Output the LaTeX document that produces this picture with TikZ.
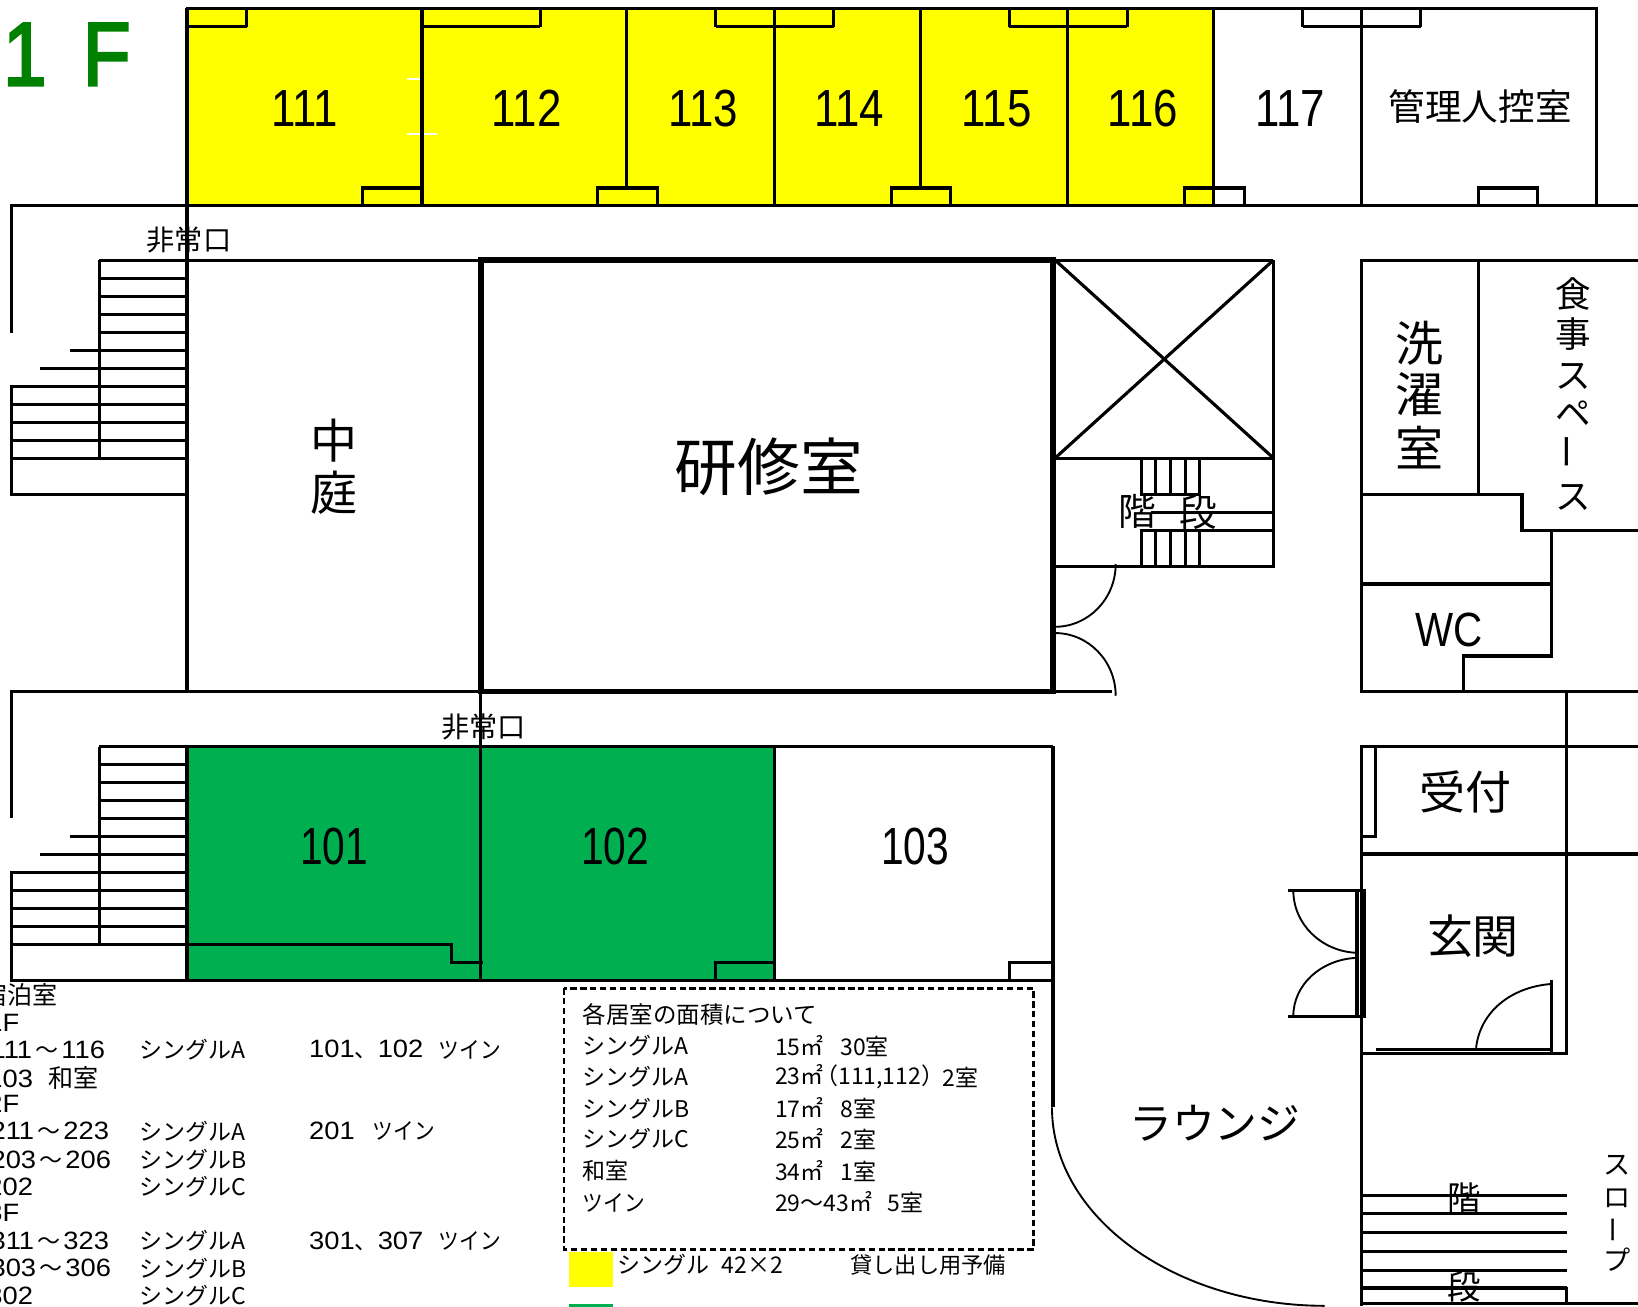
\documentclass[tikz,border=0pt]{standalone}
\usepackage{fontspec}
\usepackage{graphicx}
\setmainfont{Noto Sans CJK JP}
\newfontfamily\lib{Liberation Sans}
\newfontfamily\libfb[FakeBold=3]{Liberation Sans}
\newcommand{\fs}[1]{\fontsize{#1}{#1}\selectfont}
\newcommand{\nar}[1]{\scalebox{0.84}[1]{\lib #1}}
\newcommand{\narr}[1]{\scalebox{0.78}[1]{\lib #1}}
\newcommand{\wdn}[1]{\scalebox{1.09}[1]{\lib\fs{24}#1}}
\newcommand{\tw}{\scalebox{0.9}[1]{ツイン}}
\newcommand{\wv}{\hspace{3pt}～\hspace{3pt}}
\definecolor{roomyellow}{RGB}{255,255,0}
\definecolor{roomgreen}{RGB}{0,176,80}
\definecolor{floorgreen}{RGB}{0,128,0}
\tikzset{
  wall/.style={draw=black,line width=3pt,line cap=butt},
  thickwall/.style={draw=black,line width=5.4pt},
  arcline/.style={draw=black,line width=1.8pt},
  lbl/.style={inner sep=0pt,outer sep=0pt,anchor=center,text=black},
  lst/.style={inner sep=0pt,outer sep=0pt,anchor=west,text=black,font=\fs{22}},
  rnum/.style={lbl,font=\fs{50}},
}
\begin{document}
\begin{tikzpicture}[x=1pt,y=-1pt]
\useasboundingbox (0,0) rectangle (1568,1250.2);
\clip (0,0) rectangle (1568,1250.2);
% fills
\fill[roomyellow] (179,8) rectangle (1162,197);
\fill[roomgreen] (179,714) rectangle (741,938);
\fill[roomyellow] (545,1198) rectangle (587,1232);
\fill[roomgreen] (545,1248.5) rectangle (587,1252);
% white marks in room 111/112
\draw[white,line width=2pt] (390,76) -- (402,76);
\draw[white,line width=2pt] (390,128) -- (418,128);
% top block
\draw[wall] (178,8) -- (1530,8);
\draw[wall] (10,197) -- (1568,197);
\foreach \x in {179,404,741,1022,1303,1528} \draw[wall] (\x,8) -- (\x,197);
\draw[wall] (1162,8) -- (1162,197);
\foreach \x in {600,881} \draw[wall] (\x,8) -- (\x,180);
\foreach \a/\b in {179/236,404/517,685/798,966/1079,1247/1360} {
  \draw[wall] (\a,25) -- (\b,25);
}
\foreach \x in {236,517,685,798,966,1079,1247,1360} \draw[wall] (\x,8) -- (\x,26);
\foreach \a/\b in {347/404,572/629,853/910,1134/1191,1415/1472} {
  \draw[wall] (\a,197) -- (\a,180) -- (\b,180) -- (\b,197);
}
% left corridor and upper stairs
\draw[wall] (10.8,197) -- (10.8,318.5);
\draw[wall] (179,197) -- (179,662);
\draw[wall] (95,249) -- (1219,249);
\draw[wall] (95,249) -- (95,439);
\foreach \y in {266.4,283.7,300.9,318.2} \draw[wall] (95,\y) -- (179,\y);
\draw[wall] (67,335.4) -- (179,335.4);
\draw[wall] (38.3,352.6) -- (179,352.6);
\foreach \y in {369.8,387,404.3,421.5,438.7,473.2} \draw[wall] (10.8,\y) -- (179,\y);
\draw[wall] (10.8,368.3) -- (10.8,474.7);
% study room
\draw[thickwall] (460.5,249) rectangle (1008,662);
% void and stairs
\draw[wall] (1219,249) -- (1219,542) -- (1008,542);
\draw[wall] (1008,438.5) -- (1219,438.5);
\draw[wall] (1010,249) -- (1219,438.5);
\draw[wall] (1219,249) -- (1010,438.5);
\foreach \x in {1092.4,1106,1120.6,1134.6,1148.5} {
  \draw[wall] (\x,438.5) -- (\x,473);
  \draw[wall] (\x,508) -- (\x,542);
}
\draw[wall] (1091,473) -- (1150,473);
\draw[wall] (1101.6,490.5) -- (1219,490.5);
\draw[wall] (1091,508) -- (1219,508);
% double doors by study room
\draw[arcline] (1068,540) .. controls (1068,573) and (1042,600) .. (1010,600);
\draw[arcline] (1010,606) .. controls (1042,606) and (1068,633) .. (1068,666);
% corridors middle
\draw[wall] (10,662) -- (1064,662);
\draw[wall] (10.8,662) -- (10.8,783);
\draw[wall] (460,662) -- (460,938);
\draw[wall] (95,714.8) -- (1008,714.8);
\draw[wall] (95,714.8) -- (95,905);
\draw[wall] (179,714) -- (179,940);
\foreach \y in {732,749.3,766.2,783.4} \draw[wall] (95,\y) -- (179,\y);
\draw[wall] (67,800.6) -- (179,800.6);
\draw[wall] (38.3,817.8) -- (179,817.8);
\foreach \y in {835,852.3,869.5,886.8} \draw[wall] (10.8,\y) -- (179,\y);
\draw[wall] (10.8,904) -- (432,904) -- (432,921) -- (462,921);
\draw[wall] (10.8,833.5) -- (10.8,938.5);
\draw[wall] (9.3,938.5) -- (1010,938.5);
\draw[wall] (741,714) -- (741,938);
\draw[wall] (685,938) -- (685,921) -- (741,921);
\draw[wall] (966,938) -- (966,921) -- (1008,921);
\draw[wall] (1008,714) -- (1008,1060);
% right block upper
\draw[wall] (1568,249) -- (1303,249) -- (1303,662) -- (1568,662);
\draw[wall] (1415.5,249) -- (1415.5,473);
\draw[wall] (1303,473) -- (1457,473) -- (1457,507.5) -- (1568,507.5);
\draw[wall] (1485.5,507.5) -- (1485.5,628);
\draw[wall] (1303,559) -- (1487,559);
\draw[wall] (1487,628) -- (1401,628) -- (1401,662);
\draw[wall] (1499.5,662) -- (1499.5,1009);
% reception and entrance
\draw[wall] (1568,714.5) -- (1303,714.5) -- (1303,1250);
\draw[wall] (1303,817.5) -- (1568,817.5);
\draw[wall] (1317,714.5) -- (1317,801) -- (1303,801);
\draw[wall] (1233,852.5) -- (1306,852.5) -- (1306,973) -- (1233,973);
\draw[wall] (1299,852.5) -- (1299,973);
\draw[arcline] (1238,852) .. controls (1238,885) and (1265,910) .. (1297,912);
\draw[arcline] (1297,917) .. controls (1265,919) and (1238,942) .. (1238,973);
\draw[wall] (1303,1008.5) -- (1500.7,1008.5);
\draw[wall] (1317,1005) -- (1487,1005);
\draw[wall] (1485.5,938) -- (1485.5,1009);
\draw[arcline] (1413,1003) .. controls (1417,968) and (1447,945) .. (1484,942);
% lower stairs
\foreach \y in {1144,1162,1180,1198,1216,1233} \draw[wall] (1303,\y) -- (1500,\y);
\draw[wall] (1499.5,1232) -- (1499.5,1248);
\draw[wall] (1303,1248) -- (1568,1248);
% lounge curve
\draw[arcline] (1007,1060) .. controls (1007,1165) and (1125,1250) .. (1268,1250);
% dashed box
\draw[draw=black,line width=2.5pt,dash pattern=on 6pt off 3.5pt] (540,946) rectangle (989.5,1196);
% texts
\node[lbl,anchor=west,text=floorgreen,font=\libfb\fs{86}] (floor) at (3,52) {\scalebox{0.87}[1]{1\hspace{16pt} F}};
\foreach \n/\x in {111/292,112/504,113/673,114/813,115/954,116/1094,117/1235}
  \node[rnum] (r\n) at (\x,104) {\nar{\n}};
\node[rnum] (r101) at (320,810) {\narr{101}};
\node[rnum] (r102) at (589,810) {\narr{102}};
\node[rnum] (r103) at (876,810) {\narr{103}};
\node[lbl,font=\fs{35}] (kanri) at (1417,102) {管理人控室};
\node[lbl,font=\fs{45}] (naka1) at (320,422) {中};
\node[lbl,font=\fs{45}] (naka2) at (320,472) {庭};
\node[lbl,font=\fs{60}] (kenshu) at (736,447) {研修室};
\node[lbl,font=\fs{46}] (sen1) at (1359,329) {洗};
\node[lbl,font=\fs{46}] (sen2) at (1359,378) {濯};
\node[lbl,font=\fs{46}] (sen3) at (1359,428) {室};
\node[lbl,font=\fs{34}] (sh1) at (1506,281) {食};
\node[lbl,font=\fs{34}] (sh2) at (1506,320) {事};
\node[lbl,font=\fs{34}] (sh3) at (1506,360) {ス};
\node[lbl,font=\fs{34}] (sh4) at (1506,396) {ペ};
\node[lbl,font=\fs{34},rotate=90] (sh5) at (1506,432) {ー};
\node[lbl,font=\fs{34}] (sh6) at (1506,476) {ス};
\node[lbl,font=\fs{36}] (kai1) at (1089,490) {階};
\node[lbl,font=\fs{36}] (kai2) at (1147,490) {段};
\node[lbl,font=\fs{46}] (wc) at (1387,603) {\nar{WC}};
\node[lbl,font=\fs{44}] (uketsuke) at (1403,758) {受付};
\node[lbl,font=\fs{44}] (genkan) at (1410,896) {玄関};
\node[lbl,font=\fs{41}] (lounge) at (1163,1075) {ラウンジ};
\node[lbl,font=\fs{32}] (kai3) at (1402,1147) {階};
\node[lbl,font=\fs{32}] (kai4) at (1402,1232) {段};
\node[lbl,font=\fs{26}] (sl1) at (1548,1115) {ス};
\node[lbl,font=\fs{26}] (sl2) at (1548,1147) {ロ};
\node[lbl,font=\fs{26},rotate=90] (sl3) at (1548,1177) {ー};
\node[lbl,font=\fs{26}] (sl4) at (1548,1206) {プ};
\node[lbl,font=\fs{27}] (hijo1) at (181,230) {非常口};
\node[lbl,font=\fs{27}] (hijo2) at (463,696) {非常口};
% left list
\node[lst,font=\fs{24}] (l1) at (-17,952) {宿泊室};
\node[lst] (l2) at (-12,979) {\wdn{1F}};
\node[lst] (l3) at (-9,1005) {\wdn{111}\wv\wdn{116}};
\node[lst] (l4) at (-12,1032) {\wdn{103}\hspace{15pt}\fs{24}和室};
\node[lst] (l5) at (-12,1057) {\wdn{2F}};
\node[lst] (l6) at (-9,1083) {\wdn{211}\wv\wdn{223}};
\node[lst] (l7) at (-9,1110) {\wdn{203}\wv\wdn{206}};
\node[lst] (l8) at (-12,1136) {\wdn{202}};
\node[lst] (l9) at (-12,1161) {\wdn{3F}};
\node[lst] (l10) at (-9,1188) {\wdn{311}\wv\wdn{323}};
\node[lst] (l11) at (-9,1214) {\wdn{303}\wv\wdn{306}};
\node[lst] (l12) at (-12,1240) {\wdn{302}};
\foreach \nm/\y/\t in {a/1005/シングルA,b/1083/シングルA,c/1110/シングルB,d/1136/シングルC,e/1188/シングルA,f/1214/シングルB,g/1240/シングルC}
  \node[lst] (t\nm) at (134,\y) {\t};
\node[lst] (c1) at (296,1005) {\wdn{101}、\wdn{102}};
\node[lst] (c1b) at (420,1005) {\tw};
\node[lst] (c2) at (296,1083) {\wdn{201}};
\node[lst] (c2b) at (357,1083) {\tw};
\node[lst] (c3) at (296,1188) {\wdn{301}、\wdn{307}};
\node[lst] (c3b) at (420,1188) {\tw};
% area box
\node[lst,font=\fs{22.5}] (a0) at (558,971) {各居室の面積について};
\foreach \nm/\y/\t in {p/1001/シングルA,q/1031/シングルA,r/1061/シングルB,s/1090/シングルC,t/1121/和室,u/1151/\tw}
  \node[lst] (n\nm) at (558,\y) {\t};
\node[lst] (v1) at (742,1001) {15㎡\hspace{16pt}30室};
\node[lst] (v2) at (742,1031) {23㎡\hspace{-8pt}（111,112）};
\node[lst] (v2b) at (902,1031) {2室};
\node[lst] (v3) at (742,1061) {17㎡\hspace{16pt}8室};
\node[lst] (v4) at (742,1090) {25㎡\hspace{16pt}2室};
\node[lst] (v5) at (742,1121) {34㎡\hspace{16pt}1室};
\node[lst] (v6) at (742,1151) {29～43㎡\hspace{15pt}5室};
\node[lst] (leg1) at (591,1211) {シングル\hspace{12pt}42×2};
\node[lst,font=\fs{21.3}] (leg2) at (814,1211) {貸し出し用予備};
\end{tikzpicture}
\end{document}
